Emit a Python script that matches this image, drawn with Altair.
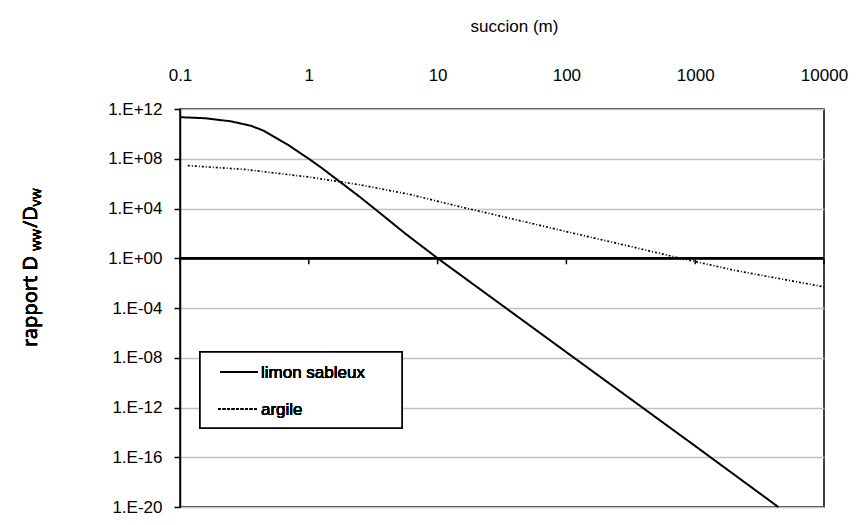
import altair as alt
import pandas as pd

series_names = ["limon sableux", "argile"]

limon_x = [0.1, 0.158, 0.251, 0.355, 0.447, 0.562, 0.708, 0.891, 1.0, 1.26, 1.78, 2.51, 3.55, 5.62, 10, 100, 1000, 4420]
limon_y = [2.2e11, 1.8e11, 1.0e11, 4.5e10, 1.8e10, 4.5e9, 1.1e9, 2.2e8, 1.0e8, 1.8e7, 1.2e6, 8e4, 4.5e3, 95, 1.0, 2.8e-8, 8e-16, 1e-20]

argile_x = [0.115, 0.316, 1, 2.5, 6.0, 15.5, 40, 107, 300, 676, 2040, 10000]
argile_y = [2.8e7, 1.4e7, 3.4e6, 8e5, 1.4e5, 1.26e4, 1.3e3, 117, 10, 1.35, 0.105, 5e-3]

x_ticks = [0.1, 1, 10, 100, 1000, 10000]
x_tick_labels = ["0.1", "1", "10", "100", "1000", "10000"]
y_ticks = [1e-20, 1e-16, 1e-12, 1e-8, 1e-4, 1, 1e4, 1e8, 1e12]
y_tick_labels = ["1.E-20", "1.E-16", "1.E-12", "1.E-08", "1.E-04", "1.E+00", "1.E+04", "1.E+08", "1.E+12"]

x_title = "succion (m)"
y_title_parts = ["rapport D", "ww", "/D", "vw"]

rows = []
for i, (xv, yv) in enumerate(zip(limon_x, limon_y)):
    rows.append({"x": xv, "y": yv, "serie": series_names[0], "order": i})
for i, (xv, yv) in enumerate(zip(argile_x, argile_y)):
    rows.append({"x": xv, "y": yv, "serie": series_names[1], "order": i})
df = pd.DataFrame(rows)
ticks_df = pd.DataFrame({"x": x_ticks})

W, H = 644, 398
FONT = "Liberation Sans"
FS = 17

x_scale = alt.Scale(type="log", domain=[0.1, 10000], nice=False)
y_scale = alt.Scale(type="log", domain=[1e-20, 1e12], nice=False)

x_lab = "[" + ",".join("'%s'" % s for s in x_tick_labels) + "]"
y_lab = "[" + ",".join("'%s'" % s for s in y_tick_labels) + "]"

lines = alt.Chart(df).mark_line(color="black").encode(
    x=alt.X("x:Q", scale=x_scale, axis=alt.Axis(
        orient="top", values=x_ticks, domain=False, ticks=False, grid=False,
        labelExpr=x_lab + "[round(log(datum.value)/LN10)+1]",
        labelFontSize=FS, labelPadding=25, labelFont=FONT, labelColor="black",
        title=x_title, titleFontSize=FS, titleFont=FONT, titleFontWeight="normal",
        titlePadding=31, titleColor="black", titleX=W / 2 + 12, titleAlign="center",
        labelFlush=False)),
    y=alt.Y("y:Q", scale=y_scale, axis=alt.Axis(
        values=y_ticks, grid=True, gridColor="#c0c0c0", gridWidth=1.5,
        domain=True, domainColor="black", domainWidth=1.5,
        ticks=True, tickColor="black", tickSize=6, tickWidth=1.5,
        labelExpr=y_lab + "[round(log(datum.value)/LN10/4)+5]",
        labelFontSize=FS, labelPadding=12, labelFont=FONT, labelColor="black",
        labelFlush=False, title=None)),
    strokeDash=alt.StrokeDash("serie:N", scale=alt.Scale(domain=series_names, range=[[1, 0], [2, 2, 1, 2]]), legend=None),
    strokeWidth=alt.StrokeWidth("serie:N", scale=alt.Scale(domain=series_names, range=[2, 1.7]), legend=None),
    order="order:Q",
)

zero_rule = alt.Chart(ticks_df).mark_rule(color="black", strokeWidth=2).encode(
    y=alt.datum(1)
)

zero_ticks = alt.Chart(ticks_df).mark_rule(color="black", strokeWidth=1.5, y2Offset=6).encode(
    x=alt.X("x:Q", scale=x_scale),
    y=alt.datum(1),
    y2=alt.datum(1),
)

# legend box
lx0, lx1, ly0, ly1 = 20, 222, 243, 319
legend_box = alt.Chart(ticks_df).mark_rect(fill="white", stroke="black", strokeWidth=1.5).encode(
    x=alt.value(lx0), x2=alt.value(lx1), y=alt.value(ly0), y2=alt.value(ly1)
)
leg1_line = alt.Chart(ticks_df).mark_rule(color="black", strokeWidth=2).encode(
    x=alt.value(lx0 + 20), x2=alt.value(lx0 + 58), y=alt.value(ly0 + 20)
)
leg2_line = alt.Chart(ticks_df).mark_rule(color="black", strokeWidth=1.2, strokeDash=[3, 1.5]).encode(
    x=alt.value(lx0 + 18), x2=alt.value(lx0 + 58), y=alt.value(ly0 + 57)
)
leg1_text = alt.Chart(ticks_df).mark_text(align="left", baseline="middle", fontSize=FS, font=FONT, color="black").encode(
    x=alt.value(lx0 + 61), y=alt.value(ly0 + 21), text=alt.value(series_names[0])
)
leg2_text = alt.Chart(ticks_df).mark_text(align="left", baseline="middle", fontSize=FS, font=FONT, color="black").encode(
    x=alt.value(lx0 + 61), y=alt.value(ly0 + 58), text=alt.value(series_names[1])
)

# y title with subscripts (rotated)
TF = "Noto Sans"
bx = -143
y_start = 238
big, small = 20, 14
w1 = 4.804 * big
w2 = 1.63 * small
w3 = 1.084 * big
segs = [
    (y_title_parts[0], big, y_start, bx),
    (y_title_parts[1], small, y_start - w1, bx + 4),
    (y_title_parts[2], big, y_start - w1 - w2, bx),
    (y_title_parts[3], small, y_start - w1 - w2 - w3, bx + 4),
]
title_layers = []
for txt, fs, yy, xx in segs:
    title_layers.append(
        alt.Chart(ticks_df).mark_text(align="left", baseline="alphabetic", angle=270,
                                       fontSize=fs, font=TF, color="black").encode(
            x=alt.value(xx), y=alt.value(yy), text=alt.value(txt))
    )

chart = alt.layer(lines, zero_rule, zero_ticks, legend_box, leg1_line, leg2_line, leg1_text, leg2_text,
                  *title_layers).properties(
    width=W, height=H,
    autosize=alt.AutoSizeParams(type="none"),
    padding={"left": 172, "top": 101, "right": 26, "bottom": 10},
    background="white",
).configure_view(stroke="black", strokeWidth=1.5)

chart.save("out.html", embed_options={"renderer": "svg", "actions": False})
